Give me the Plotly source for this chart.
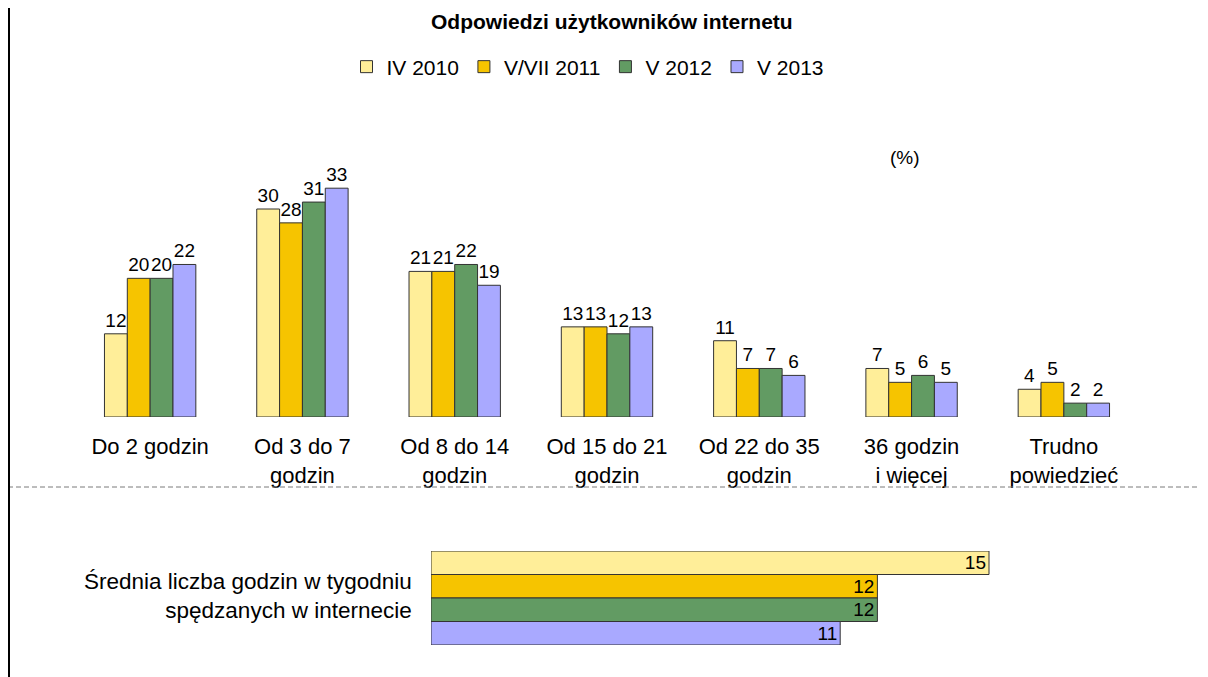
import plotly.graph_objects as go

categories = ["Do 2 godzin", "Od 3 do 7<br>godzin", "Od 8 do 14<br>godzin",
              "Od 15 do 21<br>godzin", "Od 22 do 35<br>godzin", "36 godzin<br>i więcej",
              "Trudno<br>powiedzieć"]
series_names = ["IV 2010", "V/VII 2011", "V 2012", "V 2013"]
values = {
    "IV 2010":    [12, 30, 21, 13, 11, 7, 4],
    "V/VII 2011": [20, 28, 21, 13, 7, 5, 5],
    "V 2012":     [20, 31, 22, 12, 7, 6, 2],
    "V 2013":     [22, 33, 19, 13, 6, 5, 2],
}
avg_hours = [15, 12, 12, 11]
avg_label = "Średnia liczba godzin w tygodniu<br>spędzanych w internecie"
title_text = "<b>Odpowiedzi użytkowników internetu</b>"
colors = ["#FFEE99", "#F6C400", "#629B63", "#A9A9FF"]

# page has an 8px body margin; figure sized to fit the window
OFF = 8
W, H = 1200, 669
FONT = "Liberation Sans, Arial, sans-serif"


def px(x):
    return (x - OFF) / W


def py(y):
    return 1 - (y - OFF) / H


fig = go.Figure()
for name, col in zip(series_names, colors):
    fig.add_trace(go.Bar(
        x=categories, y=values[name], name=name,
        marker=dict(color=col, line=dict(color="#333333", width=1)),
        text=values[name], textposition="outside", cliponaxis=False,
        constraintext="none",
        textfont=dict(size=19, color="black", family=FONT),
        xaxis="x", yaxis="y",
    ))

fig.add_trace(go.Bar(
    y=series_names, x=avg_hours, orientation="h", width=1,
    marker=dict(color=colors, line=dict(color="#333333", width=1)),
    text=avg_hours, textposition="inside", insidetextanchor="end",
    textangle=0, constraintext="none",
    textfont=dict(size=19, color="black", family=FONT),
    showlegend=False, xaxis="x2", yaxis="y2",
))

fig.update_layout(
    width=W, height=H,
    margin=dict(l=0, r=0, t=0, b=0),
    paper_bgcolor="white", plot_bgcolor="white",
    font=dict(family=FONT, color="black"),
    barmode="group", bargap=0.4, bargroupgap=0,
    legend=dict(orientation="h", x=px(588), xanchor="center",
                y=py(67), yanchor="middle",
                font=dict(size=21, family=FONT), itemwidth=30,
                bgcolor="rgba(0,0,0,0)"),
    xaxis=dict(domain=[px(74), px(1140)], showgrid=False, zeroline=False,
               showline=False, ticks="", tickfont=dict(size=22, family=FONT),
               ticklabelstandoff=14, anchor="y"),
    yaxis=dict(domain=[py(417), py(105)], range=[0, 45],
               visible=False, anchor="x"),
    xaxis2=dict(domain=[px(431), 1.0], range=[0, (W + OFF - 431) / 37.2],
                visible=False, anchor="y2"),
    yaxis2=dict(domain=[py(645), py(551)], range=[3.5, -0.5],
                visible=False, anchor="x2"),
    showlegend=True,
)

fig.add_annotation(text=title_text, x=px(612), y=1.0, xref="paper", yref="paper",
                   showarrow=False, xanchor="center", yanchor="top",
                   font=dict(size=21, family=FONT, color="black"))
fig.add_annotation(text="(%)", x=px(905), y=py(157), xref="paper", yref="paper",
                   showarrow=False, font=dict(size=19, family=FONT),
                   xanchor="center", yanchor="middle")
fig.add_annotation(text=avg_label, x=px(414), y=py(596), xref="paper", yref="paper",
                   showarrow=False, align="right", xanchor="right", yanchor="middle",
                   font=dict(size=22.5, family=FONT))

fig.add_shape(type="line", xref="paper", yref="paper", x0=0, x1=1.0,
              y0=py(487), y1=py(487),
              line=dict(color="#7a7a7a", width=1, dash="5px,3px"))
fig.add_shape(type="line", xref="paper", yref="paper", x0=0.5 / W, x1=0.5 / W,
              y0=0, y1=1, line=dict(color="black", width=3))

fig.write_html("out.html")
